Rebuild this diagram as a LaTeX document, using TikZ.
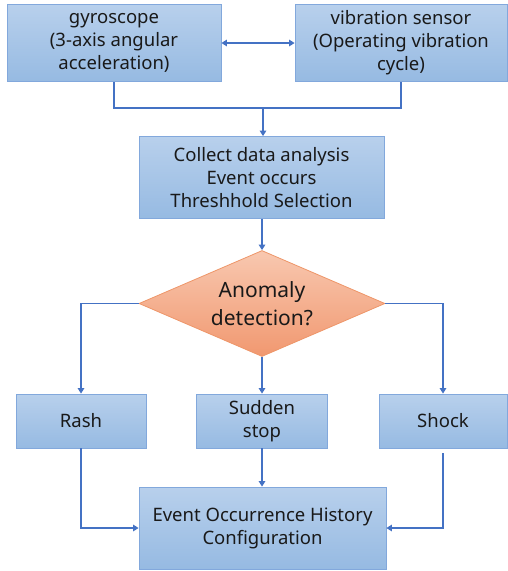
\documentclass[tikz,border=0pt]{standalone}
\usepackage{fontspec}
\setmainfont{Noto Sans}
\usetikzlibrary{arrows.meta,shapes.geometric,calc}
\definecolor{boxtop}{RGB}{184,208,236}
\definecolor{boxbot}{RGB}{150,186,226}
\definecolor{boxline}{RGB}{130,168,220}
\definecolor{arr}{RGB}{68,114,196}
\definecolor{dtop}{RGB}{248,200,176}
\definecolor{dbot}{RGB}{241,152,112}
\definecolor{dline}{RGB}{238,150,105}
\tikzset{
  x=1pt,y=-1pt,
  box/.style={draw=boxline,line width=0.8pt,top color=boxtop,bottom color=boxbot,
    align=center,inner sep=0pt,font=\fontsize{18.5}{23}\selectfont,text=black!90},
  dia/.style={diamond,draw=dline,line width=0.8pt,top color=dtop,bottom color=dbot,
    align=center,inner sep=0pt,aspect=2.32,minimum width=246pt,minimum height=106pt,
    font=\fontsize{21}{28}\selectfont,text=black!90},
  conn/.style={draw=arr,line width=1.5pt},
  arrowc/.style={conn,-{Triangle[width=6.5pt,length=5.5pt]}},
}
\begin{document}
\begin{tikzpicture}
\useasboundingbox (0,0) rectangle (507,571);
\node[box,minimum width=214pt,minimum height=77pt] (gyro) at (114,43) {gyroscope\\(3-axis angular\\acceleration)};
\node[box,minimum width=212pt,minimum height=77pt] (vib) at (401,43) {vibration sensor\\(Operating vibration\\cycle)};
\node[box,minimum width=245pt,minimum height=82pt] (col) at (261.5,177.5) {Collect data analysis\\Event occurs\\Threshhold Selection};
\node[dia] (an) at (262,303.5) {Anomaly\\detection?};
\node[box,minimum width=130pt,minimum height=54pt] (rash) at (81,421) {Rash};
\node[box,minimum width=131pt,minimum height=54pt] (sud) at (262,421) {Sudden\\stop};
\node[box,minimum width=128pt,minimum height=54pt] (shock) at (443,421) {Shock};
\node[box,minimum width=247pt,minimum height=82pt] (ev) at (262.5,528) {Event Occurrence History\\Configuration};
\coordinate (j) at (263,108);
\draw[conn,{Triangle[width=6.5pt,length=5.5pt]}-{Triangle[width=6.5pt,length=5.5pt]}] (gyro.east) -- (vib.west);
\draw[conn] (gyro.south) |- (j) -| (vib.south);
\draw[arrowc] (j) -- (j |- col.north);
\draw[arrowc] (col.south -| an.north) -- (an.north);
\draw[arrowc] (an.west) -| (rash.north);
\draw[arrowc] (an.east) -| (shock.north);
\draw[arrowc] (an.south) -- (an.south |- sud.north);
\draw[arrowc] (sud.south) -- (sud.south |- ev.north);
\draw[arrowc] (rash.south) |- (ev.west);
\draw[arrowc] ($(shock.south)+(0,5)$) |- (ev.east);
\end{tikzpicture}
\end{document}
